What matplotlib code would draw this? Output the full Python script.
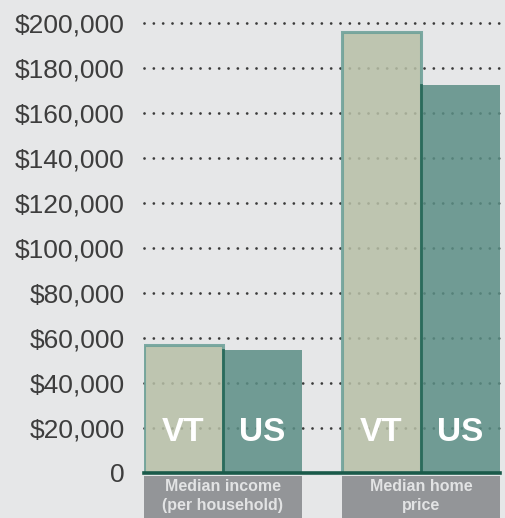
import matplotlib
matplotlib.use("Agg")
import matplotlib.pyplot as plt
import matplotlib.transforms as mtransforms
from matplotlib.patches import Rectangle
import numpy as np

plt.rcParams['font.family'] = ['Liberation Sans', 'DejaVu Sans']

# ---- data ----
categories = ["Median income\n(per household)", "Median home\nprice"]
series_names = ["VT", "US"]
vt_values = [57000, 196000]
us_values = [54500, 172500]
y_ticks = [0, 20000, 40000, 60000, 80000, 100000, 120000, 140000, 160000, 180000, 200000]
y_tick_labels = ["0", "$20,000", "$40,000", "$60,000", "$80,000", "$100,000",
                 "$120,000", "$140,000", "$160,000", "$180,000", "$200,000"]

BG = "#e6e7e8"
VT_FACE = "#b7bfa6"
US_FACE = "#5b8e85"
VT_EDGE = "#6a9f97"
US_EDGE = "#2b6b5c"
BASE = "#1a5a4a"
BOX = "#939598"

W, H = 505, 518
fig = plt.figure(figsize=(W / 100, H / 100), dpi=100, facecolor=BG)
# axes spans pixel x 144..500, y 23..473
ax = fig.add_axes([144 / W, (H - 473) / H, (500 - 144) / W, (473 - 23) / H])
ax.set_facecolor(BG)

x = np.arange(len(categories))
bw = 79 / 198
ax.set_xlim(-0.5 * 158 / 198, 1 + 0.5 * 158 / 198)
ax.set_ylim(0, 200000)

# dotted grid
for yv in y_ticks[1:]:
    ax.plot([0, 1], [yv, yv], transform=ax.get_yaxis_transform(), color="#3a3a3a",
            lw=2.0, linestyle=(0, (0.01, 3.35)), dash_capstyle="round",
            clip_on=False, zorder=1)

vt_bars = ax.bar(x - bw / 2, vt_values, width=bw, color=VT_FACE, alpha=0.85,
                 edgecolor=VT_EDGE, linewidth=2.2, zorder=2)
us_bars = ax.bar(x + bw / 2, us_values, width=bw, color=US_FACE, alpha=0.85,
                 edgecolor="none", linewidth=0, zorder=2)
for b in us_bars:
    ax.plot([b.get_x(), b.get_x()], [0, b.get_height()], color=US_EDGE, lw=2.0, zorder=3)

ax.axhline(0, color=BASE, lw=2.6, zorder=4, clip_on=False)

# labels inside bars
for b, name in zip(list(vt_bars) + list(us_bars), ["VT"] * 2 + ["US"] * 2):
    ax.text(b.get_x() + b.get_width() / 2, 18000, name, color="white",
            fontsize=24, fontweight="bold", ha="center", va="center", zorder=5)

# category boxes below axis
trans = mtransforms.blended_transform_factory(ax.transData, ax.transAxes)
box_h = (518 - 476) / (473 - 23)
for xi, cat in zip(x, categories):
    rect = Rectangle((xi - bw, -0.007 - box_h), 2 * bw, box_h, transform=trans,
                     facecolor=BOX, edgecolor="none", clip_on=False, zorder=1)
    ax.add_patch(rect)
    ax.text(xi, -0.007 - box_h / 2 + 0.002, cat, transform=trans, ha="center", va="center",
            color="#e2e3e4", fontsize=11.5, fontweight="bold", linespacing=1.35)

ax.set_yticks(y_ticks)
ax.set_yticklabels(y_tick_labels)
ax.set_xticks([])
ax.tick_params(axis="y", length=0, pad=14, labelsize=19, labelcolor="#3d3d3d")
for s in ax.spines.values():
    s.set_visible(False)

fig.savefig("out.png", dpi=100, facecolor=BG)
